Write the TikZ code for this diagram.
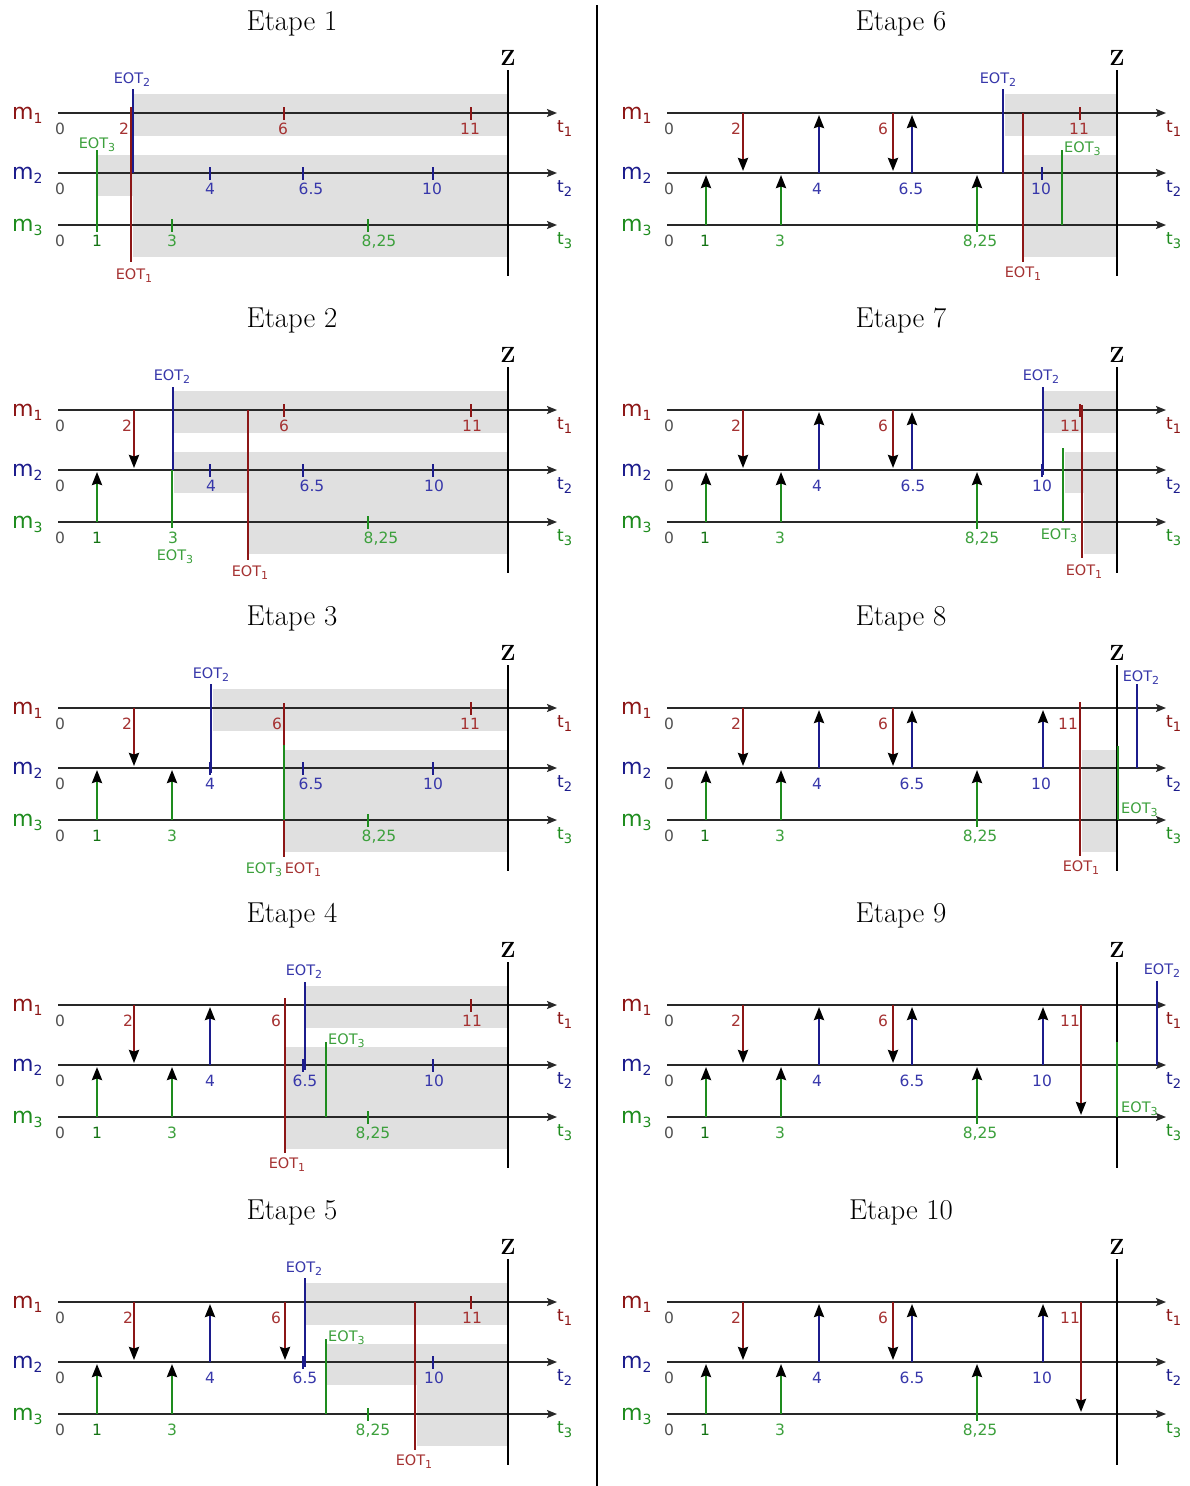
\documentclass[tikz,border=0pt]{standalone}
\usepackage{fontspec}
\newfontfamily\dvs{DejaVu Sans}
\usetikzlibrary{arrows.meta}
\definecolor{mred}{RGB}{140,22,22}
\definecolor{mredt}{RGB}{165,50,50}
\definecolor{mblue}{RGB}{28,28,140}
\definecolor{mbluet}{RGB}{55,55,170}
\definecolor{mgreen}{RGB}{30,140,30}
\definecolor{mgreent}{RGB}{60,160,60}
\definecolor{mgreend}{RGB}{20,115,20}
\definecolor{axisc}{RGB}{40,40,40}
\definecolor{bandc}{RGB}{224,224,224}
\definecolor{zeroc}{RGB}{80,80,80}
\newcommand\eotl[1]{EOT\raisebox{-3.5pt}{\fontsize{11}{11}\selectfont #1}}
\newcommand\msub[1]{\raisebox{-4pt}{\fontsize{14}{14}\selectfont #1}}
\newcommand\tsub[1]{\raisebox{-4pt}{\fontsize{13}{13}\selectfont #1}}
\tikzset{
  band/.style={fill=bandc, draw=none},
  axisline/.style={draw=axisc, line width=1.8pt, -{Stealth[length=10pt,width=8pt,inset=2pt]}},
  tickmark/.style={line width=2.2pt},
  msg/.style={line width=2.4pt, -{Stealth[length=13pt,width=10pt,inset=1.5pt,color=black]}},
  eotline/.style={line width=2.4pt},
  num/.style={font=\dvs\fontsize{15.5}{15.5}\selectfont, inner sep=0pt, anchor=base},
  eotlab/.style={font=\dvs\fontsize{14.5}{14.5}\selectfont, inner sep=0pt, anchor=base},
  eotlabw/.style={eotlab, anchor=base west},
  titlelab/.style={font=\fontsize{28.8}{28.8}\selectfont, inner sep=0pt, anchor=base},
  zlab/.style={font=\fontsize{22}{22}\selectfont\bfseries, inner sep=0pt, anchor=base},
  mlab/.style={font=\dvs\fontsize{22}{22}\selectfont, inner sep=0pt, anchor=base west},
  tlab/.style={font=\dvs\fontsize{17}{17}\selectfont, inner sep=0pt, anchor=base west},
}
% common axes of one panel
\newcommand\axes[1]{%
  \foreach \yy in {0,60,112} {\draw[axisline] (58,\yy) -- (557,\yy);}
  \draw[line width=2.4pt] (508,-43) -- (508,163);
  \node[titlelab] (title#1) at (292,-83) {Etape #1};
  \node[zlab] (z#1) at (508,-48) {Z};
  \node[mlab,text=mred] (ma#1) at (12,6) {m\msub{1}};
  \node[mlab,text=mblue] (mb#1) at (12,66) {m\msub{2}};
  \node[mlab,text=mgreen] (mc#1) at (12,118) {m\msub{3}};
  \node[tlab,text=mred] (ta#1) at (557,19) {t\tsub{1}};
  \node[tlab,text=mblue] (tb#1) at (557,79) {t\tsub{2}};
  \node[tlab,text=mgreen] (tc#1) at (557,131) {t\tsub{3}};
  \node[num,text=zeroc] (za#1) at (60,21) {0};
  \node[num,text=zeroc] (zb#1) at (60,81) {0};
  \node[num,text=zeroc] (zc#1) at (60,133) {0};
}
\newcommand\tk[3]{\draw[tickmark,#1] (#2,#3-6) -- (#2,#3+7);}
\newcommand\dn[1]{\draw[msg,mred] (#1,0) -- (#1,58);}
\newcommand\upb[1]{\draw[msg,mblue] (#1,60) -- (#1,2);}
\newcommand\upg[1]{\draw[msg,mgreen] (#1,112) -- (#1,62);}
\newcommand\nl[4]{\node[num,text=#1] at (#2,#3) {#4};}
\newcommand\labs[9]{%
  \nl{mredt}{#1}{21}{2}\nl{mredt}{#2}{21}{6}\nl{mredt}{#3}{21}{11}%
  \nl{mbluet}{#4}{81}{4}\nl{mbluet}{#5}{81}{6.5}\nl{mbluet}{#6}{81}{10}%
  \nl{mgreend}{#7}{133}{1}\nl{mgreent}{#8}{133}{3}\nl{mgreent}{#9}{133}{8,25}}
\begin{document}
\begin{tikzpicture}[x=1pt,y=-1pt]
\fill[white] (0,0) rectangle (1189,1486);
\useasboundingbox (0,0) rectangle (1189,1486);
\draw[line width=1.4pt] (597,5) -- (597,1486);

% ---------- Etape 1
\begin{scope}[shift={(0,113)}]
  \fill[band] (133,-19) rectangle (508,23);
  \fill[band] (97,42) rectangle (508,83);
  \fill[band] (133,83) rectangle (508,144);
  \axes{1}
  \tk{mred}{131}{0}\tk{mred}{284}{0}\tk{mred}{471}{0}
  \tk{mblue}{210}{60}\tk{mblue}{303}{60}\tk{mblue}{433}{60}
  \tk{mgreen}{97}{112}\tk{mgreen}{172}{112}\tk{mgreen}{368}{112}
  \draw[eotline,mgreen] (97,37) -- (97,112);
  \draw[eotline,mred] (131,-5) -- (131,149);
  \draw[eotline,mblue] (133,-24) -- (133,60);
  \node[eotlab,text=mgreent] at (97,35) {\eotl{3}};
  \node[eotlab,text=mredt] at (134,166) {\eotl{1}};
  \node[eotlab,text=mbluet] at (132,-30) {\eotl{2}};
  \labs{124}{283}{470}{210}{311}{432}{97}{172}{379}
\end{scope}

% ---------- Etape 2
\begin{scope}[shift={(0,410)}]
  \fill[band] (174,-19) rectangle (508,23);
  \fill[band] (174,42) rectangle (508,83);
  \fill[band] (248,83) rectangle (508,144);
  \axes{2}
  \tk{mred}{284}{0}\tk{mred}{471}{0}
  \tk{mblue}{210}{60}\tk{mblue}{303}{60}\tk{mblue}{433}{60}
  \tk{mgreen}{368}{112}
  \dn{134}\upg{97}
  \draw[eotline,mblue] (173,-23) -- (173,60);
  \draw[eotline,mgreen] (172,60) -- (172,118);
  \draw[eotline,mred] (248,0) -- (248,150);
  \node[eotlab,text=mbluet] at (172,-30) {\eotl{2}};
  \node[eotlab,text=mgreent] at (175,150) {\eotl{3}};
  \node[eotlab,text=mredt] at (250,166) {\eotl{1}};
  \labs{127}{284}{472}{211}{312}{434}{97}{173}{381}
\end{scope}

% ---------- Etape 3
\begin{scope}[shift={(0,708)}]
  \fill[band] (213,-19) rectangle (508,23);
  \fill[band] (285,42) rectangle (508,144);
  \axes{3}
  \tk{mred}{471}{0}
  \tk{mblue}{210}{60}\tk{mblue}{303}{60}\tk{mblue}{433}{60}
  \tk{mgreen}{368}{112}
  \dn{134}\upg{97}\upg{172}
  \draw[eotline,mblue] (211,-24) -- (211,65);
  \draw[eotline,mred] (284,-5) -- (284,149);
  \draw[eotline,mgreen] (284,37) -- (284,112);
  \node[eotlab,text=mbluet] at (211,-30) {\eotl{2}};
  \node[eotlab,text=mredt] at (303,165) {\eotl{1}};
  \node[eotlab,text=mgreent] at (264,165) {\eotl{3}};
  \labs{127}{277}{470}{210}{311}{433}{97}{172}{379}
\end{scope}

% ---------- Etape 4
\begin{scope}[shift={(0,1005)}]
  \fill[band] (306,-19) rectangle (508,23);
  \fill[band] (286,42) rectangle (508,144);
  \axes{4}
  \tk{mred}{471}{0}
  \tk{mblue}{303}{60}\tk{mblue}{433}{60}
  \tk{mgreen}{368}{112}
  \dn{134}\upb{210}\upg{97}\upg{172}
  \draw[eotline,mred] (285,-7) -- (285,148);
  \draw[eotline,mblue] (305,-23) -- (305,65);
  \draw[eotline,mgreen] (326,37) -- (326,112);
  \node[eotlab,text=mredt] at (287,163) {\eotl{1}};
  \node[eotlab,text=mbluet] at (304,-30) {\eotl{2}};
  \node[eotlabw,text=mgreent] at (328,39) {\eotl{3}};
  \labs{128}{276}{472}{210}{305}{434}{97}{172}{373}
\end{scope}

% ---------- Etape 5
\begin{scope}[shift={(0,1302)}]
  \fill[band] (306,-19) rectangle (508,23);
  \fill[band] (327,42) rectangle (508,83);
  \fill[band] (417,83) rectangle (508,144);
  \axes{5}
  \tk{mred}{471}{0}
  \tk{mblue}{303}{60}\tk{mblue}{433}{60}
  \tk{mgreen}{368}{112}
  \dn{134}\dn{285}\upb{210}\upg{97}\upg{172}
  \draw[eotline,mblue] (305,-24) -- (305,65);
  \draw[eotline,mgreen] (326,37) -- (326,112);
  \draw[eotline,mred] (415,0) -- (415,148);
  \node[eotlab,text=mbluet] at (304,-30) {\eotl{2}};
  \node[eotlabw,text=mgreent] at (328,39) {\eotl{3}};
  \node[eotlab,text=mredt] at (414,163) {\eotl{1}};
  \labs{128}{276}{472}{210}{305}{434}{97}{172}{373}
\end{scope}

% ---------- Etape 6
\begin{scope}[shift={(609,113)}]
  \fill[band] (396,-19) rectangle (508,23);
  \fill[band] (414,42) rectangle (508,144);
  \axes{6}
  \tk{mred}{471}{0}
  \tk{mblue}{433}{60}
  \tk{mgreen}{368}{112}
  \dn{134}\dn{284}\upb{210}\upb{303}\upg{97}\upg{172}\upg{368}
  \draw[eotline,mblue] (394,-24) -- (394,60);
  \draw[eotline,mred] (414,0) -- (414,149);
  \draw[eotline,mgreen] (453,37) -- (453,112);
  \node[eotlab,text=mbluet] at (389,-30) {\eotl{2}};
  \node[eotlab,text=mredt] at (414,164) {\eotl{1}};
  \node[eotlabw,text=mgreent] at (455,39) {\eotl{3}};
  \labs{127}{274}{470}{208}{302}{432}{96}{171}{371}
\end{scope}

% ---------- Etape 7
\begin{scope}[shift={(609,410)}]
  \fill[band] (434,-19) rectangle (508,23);
  \fill[band] (456,42) rectangle (508,83);
  \fill[band] (475,83) rectangle (508,144);
  \axes{7}
  \tk{mred}{471}{0}
  \tk{mblue}{433}{60}
  \tk{mgreen}{368}{112}
  \dn{134}\dn{284}\upb{210}\upb{303}\upg{97}\upg{172}\upg{368}
  \draw[eotline,mblue] (434,-23) -- (434,65);
  \draw[eotline,mgreen] (454,38) -- (454,112);
  \draw[eotline,mred] (473,-5) -- (473,148);
  \node[eotlab,text=mbluet] at (432,-30) {\eotl{2}};
  \node[eotlab,text=mgreent] at (450,129) {\eotl{3}};
  \node[eotlab,text=mredt] at (475,165) {\eotl{1}};
  \labs{127}{274}{461}{208}{304}{433}{96}{171}{373}
\end{scope}

% ---------- Etape 8
\begin{scope}[shift={(609,708)}]
  \fill[band] (473,42) rectangle (508,144);
  \axes{8}
  \tk{mred}{471}{0}
  \tk{mgreen}{368}{112}
  \dn{134}\dn{284}\upb{210}\upb{303}\upb{434}\upg{97}\upg{172}\upg{368}
  \draw[eotline,mred] (471,-5) -- (471,148);
  \draw[eotline,mgreen] (509,38) -- (509,112);
  \draw[eotline,mblue] (528,-24) -- (528,60);
  \node[eotlab,text=mredt] at (472,163) {\eotl{1}};
  \node[eotlabw,text=mgreent] at (512,105) {\eotl{3}};
  \node[eotlab,text=mbluet] at (532,-27) {\eotl{2}};
  \labs{127}{274}{459}{208}{303}{432}{96}{171}{371}
\end{scope}

% ---------- Etape 9
\begin{scope}[shift={(609,1005)}]
  \axes{9}
  \tk{mgreen}{368}{112}
  \dn{134}\dn{284}\upb{210}\upb{303}\upb{434}\upg{97}\upg{172}\upg{368}
  \draw[msg,mred] (472,0) -- (472,110);
  \draw[eotline,mgreen] (508,37) -- (508,112);
  \draw[eotline,mblue] (548,-24) -- (548,60);
  \node[eotlabw,text=mgreent] at (512,107) {\eotl{3}};
  \node[eotlab,text=mbluet] at (553,-31) {\eotl{2}};
  \labs{127}{274}{461}{208}{303}{433}{96}{171}{371}
\end{scope}

% ---------- Etape 10
\begin{scope}[shift={(609,1302)}]
  \axes{10}
  \tk{mgreen}{368}{112}
  \dn{134}\dn{284}\upb{210}\upb{303}\upb{434}\upg{97}\upg{172}\upg{368}
  \draw[msg,mred] (472,0) -- (472,110);
  \labs{127}{274}{461}{208}{303}{433}{96}{171}{371}
\end{scope}
\end{tikzpicture}
\end{document}
